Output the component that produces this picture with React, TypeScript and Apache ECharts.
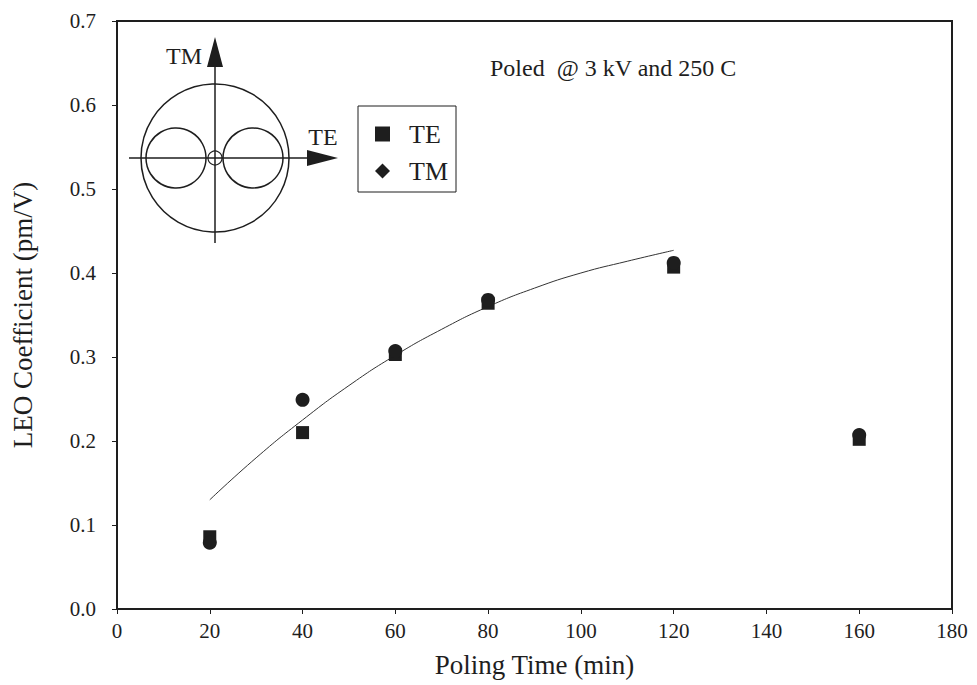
import React, { useEffect, useRef } from "react";
import * as echarts from "echarts";

const timeTE = [20, 40, 60, 80, 120, 160];
const valuesTE = [0.086, 0.21, 0.303, 0.364, 0.407, 0.202];
const timeTM = [20, 40, 60, 80, 120, 160];
const valuesTM = [0.079, 0.249, 0.307, 0.368, 0.412, 0.207];
const fitTime = [20, 30, 40, 50, 60, 70, 80, 90, 100, 110, 120];
const fitValues = [0.13, 0.18, 0.225, 0.266, 0.302, 0.333, 0.36, 0.382, 0.4, 0.414, 0.427];
const xTicks = [0, 20, 40, 60, 80, 100, 120, 140, 160, 180];
const yTicks = [0, 0.1, 0.2, 0.3, 0.4, 0.5, 0.6, 0.7];

const FONT = "Liberation Serif";
const INK = "#1e1e1e";

export default function App() {
  const ref = useRef<HTMLDivElement>(null);
  useEffect(() => {
    if (!ref.current) return;
    const chart = echarts.init(ref.current, undefined, { renderer: "svg" });
    const pair = (xs: number[], ys: number[]) => xs.map((x, i) => [x, ys[i]]);
    chart.setOption({
      animation: false,
      backgroundColor: "#fff",
      grid: {
        left: 117,
        top: 21,
        right: 25,
        bottom: 76,
        show: true,
        borderColor: INK,
        borderWidth: 2,
      },
      xAxis: {
        type: "value",
        min: xTicks[0],
        max: xTicks[xTicks.length - 1],
        interval: 20,
        name: "Poling Time (min)",
        nameLocation: "middle",
        nameGap: 42,
        nameTextStyle: { fontFamily: FONT, fontSize: 27, color: INK },
        axisLine: { show: true, lineStyle: { color: INK, width: 2 } },
        axisTick: { show: true, length: 5, lineStyle: { color: INK } },
        axisLabel: { fontFamily: FONT, fontSize: 21, color: INK, margin: 11 },
        splitLine: { show: false },
      },
      yAxis: {
        type: "value",
        min: yTicks[0],
        max: yTicks[yTicks.length - 1],
        interval: 0.1,
        name: "LEO Coefficient (pm/V)",
        nameLocation: "middle",
        nameGap: 81,
        nameTextStyle: { fontFamily: FONT, fontSize: 27, color: INK },
        axisLine: { show: true, lineStyle: { color: INK, width: 2 } },
        axisTick: { show: true, length: 5, lineStyle: { color: INK } },
        axisLabel: {
          fontFamily: FONT,
          fontSize: 21,
          color: INK,
          margin: 21,
          formatter: (v: number) => v.toFixed(1),
        },
        splitLine: { show: false },
      },
      legend: {
        orient: "vertical",
        left: 358,
        top: 106,
        data: [
          { name: "TE", icon: "rect" },
          { name: "TM", icon: "diamond" },
        ],
        itemWidth: 15,
        itemHeight: 15,
        itemGap: 11,
        padding: [15, 8, 8, 17],
        borderColor: INK,
        borderWidth: 1,
        textStyle: {
          fontFamily: FONT,
          fontSize: 26,
          color: INK,
          lineHeight: 24,
          padding: [0, 0, 0, 14],
        },
      },
      series: [
        {
          name: "fit",
          type: "line",
          data: pair(fitTime, fitValues),
          smooth: true,
          showSymbol: false,
          lineStyle: { color: "#333", width: 1 },
          z: 1,
        },
        {
          name: "TE",
          type: "scatter",
          data: pair(timeTE, valuesTE),
          symbol: "rect",
          symbolSize: 13,
          itemStyle: { color: INK, opacity: 1 },
          z: 2,
        },
        {
          name: "TM",
          type: "scatter",
          data: pair(timeTM, valuesTM),
          symbol: "circle",
          symbolSize: 14,
          itemStyle: { color: INK, opacity: 1 },
          z: 3,
        },
      ],
      graphic: [
        {
          type: "text",
          x: 490,
          y: 68,
          style: {
            text: "Poled  @ 3 kV and 250 C",
            font: `24px "${FONT}"`,
            fill: INK,
            verticalAlign: "middle",
          },
        },
        { type: "circle", shape: { cx: 215, cy: 158, r: 74 }, style: { fill: "none", stroke: INK, lineWidth: 1.5 } },
        { type: "circle", shape: { cx: 176, cy: 158, r: 30 }, style: { fill: "none", stroke: INK, lineWidth: 1.5 } },
        { type: "circle", shape: { cx: 253, cy: 158, r: 30 }, style: { fill: "none", stroke: INK, lineWidth: 1.5 } },
        { type: "circle", shape: { cx: 215, cy: 158, r: 7 }, style: { fill: "none", stroke: INK, lineWidth: 1.2 } },
        { type: "line", shape: { x1: 215, y1: 243, x2: 215, y2: 60 }, style: { stroke: INK, lineWidth: 1.5 } },
        { type: "line", shape: { x1: 129, y1: 158, x2: 312, y2: 158 }, style: { stroke: INK, lineWidth: 1.5 } },
        { type: "polygon", shape: { points: [[215, 37], [207, 67], [223, 67]] }, style: { fill: INK } },
        { type: "polygon", shape: { points: [[338, 158], [307, 150], [307, 166]] }, style: { fill: INK } },
        {
          type: "text",
          x: 184,
          y: 56,
          style: { text: "TM", font: `24px "${FONT}"`, fill: INK, align: "center", verticalAlign: "middle" },
        },
        {
          type: "text",
          x: 323,
          y: 137,
          style: { text: "TE", font: `24px "${FONT}"`, fill: INK, align: "center", verticalAlign: "middle" },
        },
      ],
    });
    return () => chart.dispose();
  }, []);
  return (
    <div
      ref={ref}
      style={{ position: "absolute", left: 0, top: 0, width: 977, height: 685 }}
    />
  );
}
